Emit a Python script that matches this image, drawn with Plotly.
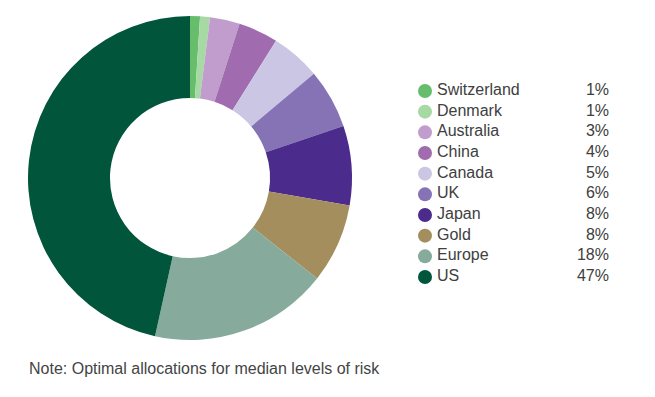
import plotly.graph_objects as go

labels = ["Switzerland", "Denmark", "Australia", "China", "Canada", "UK", "Japan", "Gold", "Europe", "US"]
values = [1, 1, 3, 4, 5, 6, 8, 8, 18, 47]
colors = ["#66bd6b", "#a6d9a3", "#c19dcd", "#a06caf", "#cac6e3", "#8573b5", "#4b2b8b", "#a48e5e", "#86ab9c", "#00553b"]
note = "Note: Optimal allocations for median levels of risk"

W, H = 655, 397
pct_text = [f"{v}%" for v in values]
rows = list(range(len(labels)))
FONT = "Liberation Sans, Arial"
X0, X1 = 425, 609

fig = go.Figure()
fig.add_trace(go.Pie(
    labels=labels, values=values, marker=dict(colors=colors, line=dict(width=0)),
    hole=0.494, sort=False, direction="clockwise", rotation=0,
    textinfo="none", showlegend=False, hoverinfo="label+percent",
    domain=dict(x=[28 / W, 352 / W], y=[(H - 340) / H, (H - 16) / H]),
))
fig.add_trace(go.Scatter(
    x=[0] * len(labels), y=rows, mode="markers", cliponaxis=False,
    marker=dict(color=colors, size=14, line=dict(width=0)),
    showlegend=False, hoverinfo="skip",
))
fig.add_trace(go.Scatter(
    x=[12 / (X1 - X0)] * len(labels), y=rows, mode="text", text=labels, cliponaxis=False,
    textposition="middle right", textfont=dict(family=FONT, size=16, color="#404040"),
    showlegend=False, hoverinfo="skip",
))
fig.add_trace(go.Scatter(
    x=[1] * len(labels), y=rows, mode="text", text=pct_text, cliponaxis=False,
    textposition="middle left", textfont=dict(family=FONT, size=16, color="#404040"),
    showlegend=False, hoverinfo="skip",
))

fig.update_layout(
    width=W, height=H, margin=dict(l=0, r=0, t=0, b=0),
    paper_bgcolor="white", plot_bgcolor="white",
    xaxis=dict(domain=[X0 / W, X1 / W], range=[0, 1], visible=False, fixedrange=True),
    yaxis=dict(domain=[(H - 287.33) / H, (H - 80.67) / H], range=[9.5, -0.5], visible=False, fixedrange=True),
    annotations=[dict(
        text=note, x=27 / W, y=(H - 368) / H, xref="paper", yref="paper",
        xanchor="left", yanchor="middle", showarrow=False,
        font=dict(family=FONT, size=16, color="#444444"),
    )],
)

fig.write_html("out.html", config={"displayModeBar": False},
               post_script="document.body.style.margin='0';document.body.style.padding='0';")
